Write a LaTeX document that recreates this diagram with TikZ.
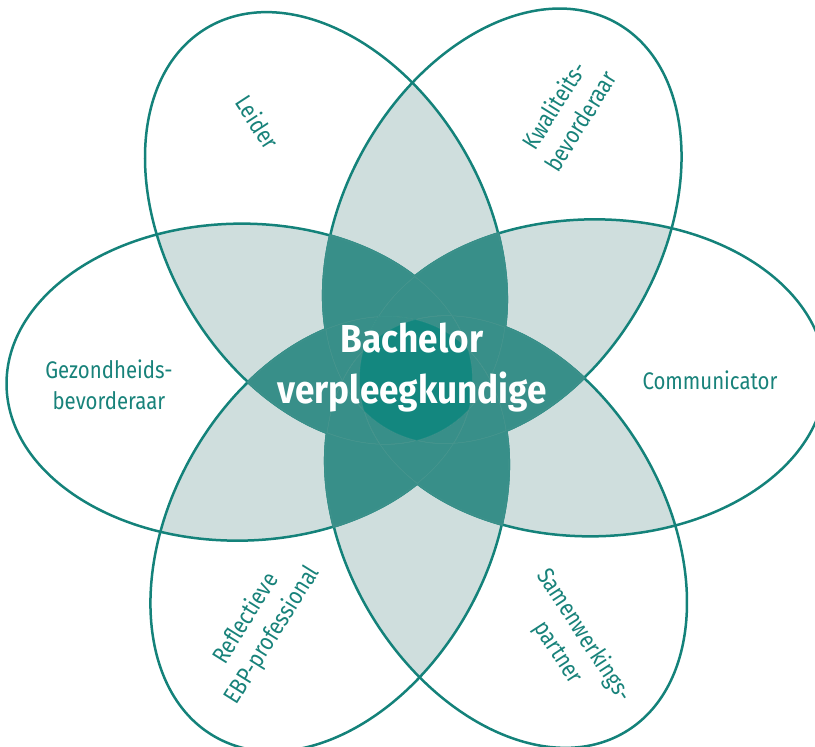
\documentclass[tikz,border=0pt]{standalone}
\usepackage{fontspec}
\setmainfont{Fira Sans}
\newfontfamily\labelfont{Fira Sans}[FakeStretch=0.85]
\newfontfamily\titlefont{Fira Sans}[FakeStretch=0.9]

\definecolor{petalline}{HTML}{14827A}
\definecolor{pairfill}{HTML}{CFDEDD}
\definecolor{triplefill}{HTML}{388F89}
\definecolor{corefill}{HTML}{13877F}
\definecolor{veinline}{HTML}{45958E}
\definecolor{corevein}{HTML}{2A8F88}
\definecolor{labelteal}{HTML}{18827A}

% petal geometry (pt): distance of each ellipse centre from the middle,
% semi-axes, and a small overall turn of the flower
\newcommand\petalD{176.5}
\newcommand\petalA{233}
\newcommand\petalB{158.5}
\newcommand\flowerturn{0.7}

\tikzset{
  petal/.style={rotate=\flowerturn+60*#1},
  petalsize/.style={x radius=\petalA+#1, y radius=\petalB+#1},
  lbl/.style={font=\labelfont\fontsize{24}{31}\selectfont, text=labelteal, align=center},
  title/.style={font=\titlefont\bfseries\fontsize{39}{51}\selectfont, text=white, align=center},
}

\begin{document}
\begin{tikzpicture}[x=1pt,y=1pt]
\useasboundingbox (-416,-367) rectangle (399,380);

% regions shared by two petals
\foreach \i in {0,...,4}{
  \foreach \j in {1,...,5}{
    \ifnum\j>\i
      \begin{scope}
        \clip[petal=\i] (\petalD,0) ellipse [petalsize=0];
        \fill[pairfill, petal=\j] (\petalD,0) ellipse [petalsize=0];
      \end{scope}
    \fi
  }
}

% petal outlines
\foreach \i in {0,...,5}{
  \draw[petalline, line width=2.5pt, petal=\i] (\petalD,0) ellipse [petalsize=0];
}

% regions shared by three or more petals
\foreach \i in {0,...,3}{
  \foreach \j in {1,...,4}{
    \foreach \k in {2,...,5}{
      \ifnum\j>\i \ifnum\k>\j
        \begin{scope}
          \clip[petal=\i] (\petalD,0) ellipse [petalsize=1.3];
          \clip[petal=\j] (\petalD,0) ellipse [petalsize=1.3];
          \fill[triplefill, petal=\k] (\petalD,0) ellipse [petalsize=1.3];
        \end{scope}
      \fi\fi
    }
  }
}

% faint outlines inside the dark star
\foreach \i in {0,...,3}{
  \foreach \j in {1,...,4}{
    \foreach \k in {2,...,5}{
      \ifnum\j>\i \ifnum\k>\j
        \begin{scope}
          \clip[petal=\i] (\petalD,0) ellipse [petalsize=0];
          \clip[petal=\j] (\petalD,0) ellipse [petalsize=0];
          \clip[petal=\k] (\petalD,0) ellipse [petalsize=0];
          \foreach \m in {0,...,5}{
            \draw[veinline, line width=0.5pt, petal=\m] (\petalD,0) ellipse [petalsize=0];
          }
        \end{scope}
      \fi\fi
    }
  }
}

% core shared by all six petals
\begin{scope}
  \foreach \i in {0,...,4}{
    \clip[petal=\i] (\petalD,0) ellipse [petalsize=0];
  }
  \fill[corefill, petal=5] (\petalD,0) ellipse [petalsize=0];
  \foreach \m in {0,...,5}{
    \draw[corevein, line width=0.5pt, petal=\m] (\petalD,0) ellipse [petalsize=0];
  }
\end{scope}

% labels
\node[title] (core) at (-4,12) {Bachelor\\verpleegkundige};
\node[lbl] (communicator) at (294,-0.5) {Communicator};
\node[lbl] (gezondheid) at (-307,-4.5) {Gezondheids-\\bevorderaar};
\node[lbl, rotate=-57] (leider) at (-158,258) {Leider};
\node[lbl, rotate=58] (kwaliteit) at (151,267) {Kwaliteits-\\bevorderaar};
\node[lbl, rotate=58] (reflectief) at (-156.5,-247) {Reflectieve\\EBP-professional};
\node[lbl, rotate=-57] (samenwerking) at (155,-264) {Samenwerkings-\\partner};
\end{tikzpicture}
\end{document}
